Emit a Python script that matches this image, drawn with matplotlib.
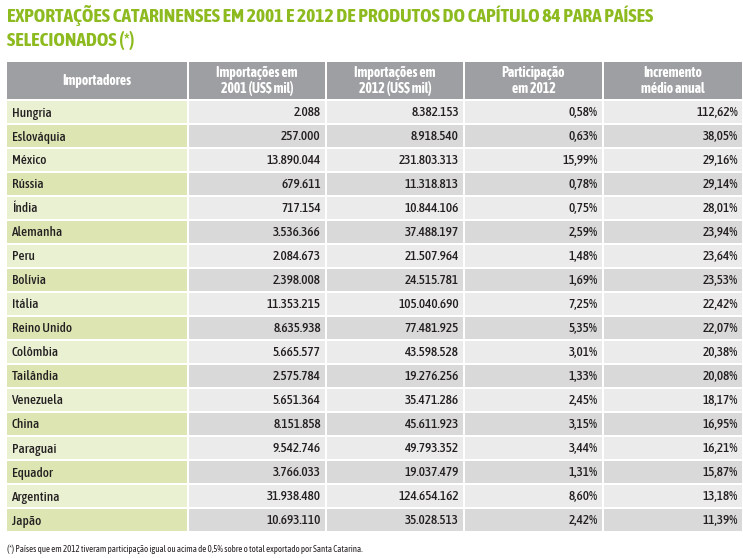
import matplotlib.pyplot as plt
from matplotlib.patches import Rectangle

# table data
paises = ['Hungria', 'Eslováquia', 'México', 'Rússia', 'Índia', 'Alemanha', 'Peru',
          'Bolívia', 'Itália', 'Reino Unido', 'Colômbia', 'Tailândia', 'Venezuela',
          'China', 'Paraguai', 'Equador', 'Argentina', 'Japão']
imp2001 = ['2.088', '257.000', '13.890.044', '679.611', '717.154', '3.536.366',
           '2.084.673', '2.398.008', '11.353.215', '8.635.938', '5.665.577',
           '2.575.784', '5.651.364', '8.151.858', '9.542.746', '3.766.033',
           '31.938.480', '10.693.110']
imp2012 = ['8.382.153', '8.918.540', '231.803.313', '11.318.813', '10.844.106',
           '37.488.197', '21.507.964', '24.515.781', '105.040.690', '77.481.925',
           '43.598.528', '19.276.256', '35.471.286', '45.611.923', '49.793.352',
           '19.037.479', '124.654.162', '35.028.513']
particip = ['0,58%', '0,63%', '15,99%', '0,78%', '0,75%', '2,59%', '1,48%', '1,69%',
            '7,25%', '5,35%', '3,01%', '1,33%', '2,45%', '3,15%', '3,44%', '1,31%',
            '8,60%', '2,42%']
incremento = ['112,62%', '38,05%', '29,16%', '29,14%', '28,01%', '23,94%', '23,64%',
              '23,53%', '22,42%', '22,07%', '20,38%', '20,08%', '18,17%', '16,95%',
              '16,21%', '15,87%', '13,18%', '11,39%']
cabecalhos = ['Importadores', 'Importações em\n2001 (US$ mil)',
              'Importações em\n2012 (US$ mil)', 'Participação\nem 2012',
              'Incremento\nmédio anual']

titulo1 = 'EXPORTAÇÕES CATARINENSES EM 2001 E 2012 DE PRODUTOS DO CAPÍTULO 84 PARA PAÍSES'
titulo2 = 'SELECIONADOS (*)'
nota = '(*) Países que em 2012 tiveram participação igual ou acima de 0,5% sobre o total exportado por Santa Catarina.'

plt.rcParams['font.family'] = ['Asap Condensed', 'DejaVu Sans']

fig = plt.figure(figsize=(7.43, 5.58), dpi=100)
ax = fig.add_axes([0, 0, 1, 1])
ax.set_xlim(0, 743)
ax.set_ylim(558, 0)
ax.axis('off')
rend = fig.canvas.get_renderer()

def ajusta(t, largura, tam):
    # shrink text until it fits the width (pixels)
    while t.get_window_extent(rend).width > largura and tam > 4:
        tam -= 0.1
        t.set_fontsize(tam)

#column edges (pixels)
bordas = [7, 188, 326, 464, 603, 742]
gap = 2.5
topo_cab = 62
alt_cab = 37
topo_lin = 101
alt_lin = 22
passo = 24

verde = '#8dbb1f'
texto = '#231f20'

t1 = ax.text(7, 16, titulo1, fontweight='bold', fontsize=14, color=verde,
             va='center', ha='left')
ajusta(t1, 735, 14)
t2 = ax.text(7, 40, titulo2, fontweight='bold', fontsize=t1.get_fontsize(),
             color=verde, va='center', ha='left')

#header
for i in range(5):
    x0 = bordas[i] + (gap / 2 if i > 0 else 0)
    x1 = bordas[i + 1] - (gap / 2 if i < 4 else 0)
    ax.add_patch(Rectangle((x0, topo_cab), x1 - x0, alt_cab, color='#9d9fa2', lw=0))
    ax.text((x0 + x1) / 2, topo_cab + alt_cab / 2 + 0.5, cabecalhos[i], color='white',
            fontweight='bold', fontsize=10, ha='center', va='center',
            linespacing=1.1)

#rows
colunas = [paises, imp2001, imp2012, particip, incremento]
for r in range(len(paises)):
    y = topo_lin + r * passo
    par = r % 2 == 0
    for i in range(5):
        x0 = bordas[i] + (gap / 2 if i > 0 else 0)
        x1 = bordas[i + 1] - (gap / 2 if i < 4 else 0)
        if i == 0:
            cor = '#eaf1d3' if par else '#dde6b3'
        else:
            cor = '#ebebeb' if par else '#d9d9d9'
        ax.add_patch(Rectangle((x0, y), x1 - x0, alt_lin, color=cor, lw=0))
        if i == 0:
            ax.text(x0 + 5, y + alt_lin / 2 + 1, colunas[i][r], fontweight='medium',
                    fontsize=9.5, color=texto, ha='left', va='center')
        else:
            ax.text(x1 - 4, y + alt_lin / 2 + 1, colunas[i][r], fontweight='medium',
                    fontsize=9.5, color=texto, ha='right', va='center')

n = ax.text(7, 549, nota, fontsize=6.5, color=texto, ha='left', va='center')
ajusta(n, 356, 6.5)

plt.savefig('out.png', dpi=100)
